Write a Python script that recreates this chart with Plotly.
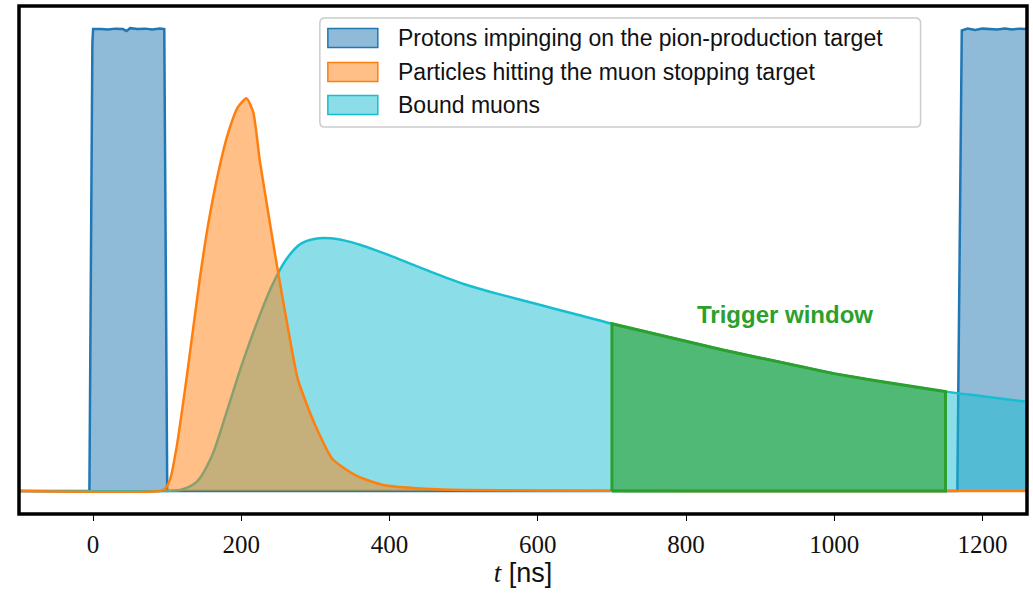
import plotly.graph_objects as go

# Beam time structure, in ns
proton_t = [-100, -5, -1, 0, 10, 20, 30, 40, 45, 50, 60, 70, 80, 90, 96, 98, 100,
            1166, 1170, 1172, 1180, 1190, 1200, 1210, 1220, 1230, 1240, 1250, 1260]
proton_y = [0.0, 0.0, 0.97, 1.0, 1.0, 0.999, 1.001, 1.0, 0.996, 1.002, 1.0, 1.001, 0.999, 1.001, 1.0, 0.5, 0.0,
            0.0, 0.6, 0.997, 1.001, 0.998, 1.001, 1.0, 0.999, 1.001, 0.999, 1.001, 1.0]

particle_t = [-100, 90, 97, 104, 113, 126, 144, 155, 168, 182, 195, 207, 216, 225, 236,
              248, 262, 276, 290, 302, 323, 355, 391, 436, 500, 600, 800, 1260]
particle_y = [0.0, 0.0, 0.005, 0.026, 0.098, 0.243, 0.46, 0.575, 0.683, 0.774, 0.83, 0.85,
              0.82, 0.714, 0.605, 0.488, 0.36, 0.243, 0.18, 0.134, 0.069, 0.033, 0.013,
              0.006, 0.002, 0.001, 0.0, 0.0]

muon_t = [-100, 100, 120, 140, 160, 180, 200, 220, 240, 260, 280, 300, 320, 340, 360, 380,
          400, 450, 500, 550, 600, 650, 700, 750, 800, 850, 900, 950, 1000, 1050, 1100,
          1150, 1200, 1260]
muon_y = [0.0, 0.0, 0.003, 0.02, 0.075, 0.17, 0.27, 0.36, 0.44, 0.5, 0.535, 0.546, 0.547,
          0.542, 0.533, 0.522, 0.51, 0.478, 0.448, 0.425, 0.404, 0.383, 0.362, 0.343,
          0.324, 0.305, 0.288, 0.271, 0.254, 0.240, 0.227, 0.215, 0.205, 0.193]

window_start, window_end = 700, 1150

labels = ["Protons impinging on the pion-production target",
          "Particles hitting the muon stopping target",
          "Bound muons"]
x_ticks = [0, 200, 400, 600, 800, 1000, 1200]

blue, orange, cyan, green = "#1f77b4", "#ff7f0e", "#17becf", "#2ca02c"

fig = go.Figure()

fig.add_trace(go.Scatter(x=proton_t, y=proton_y, mode="lines", fill="tozeroy",
                         line=dict(color=blue, width=2.5),
                         fillcolor="rgba(31,119,180,0.5)", showlegend=False))
fig.add_trace(go.Scatter(x=muon_t, y=muon_y, mode="lines", fill="tozeroy",
                         line=dict(color=cyan, width=2.5, shape="spline", smoothing=0.8),
                         fillcolor="rgba(23,190,207,0.5)", showlegend=False))
fig.add_trace(go.Scatter(x=particle_t, y=particle_y, mode="lines", fill="tozeroy",
                         line=dict(color=orange, width=2.5, shape="spline", smoothing=0.6),
                         fillcolor="rgba(255,127,14,0.5)", showlegend=False))

# Trigger window: area under the bound-muon curve between the window edges
win_t = [t for t in muon_t if window_start <= t <= window_end]
win_y = [y for t, y in zip(muon_t, muon_y) if window_start <= t <= window_end]
fig.add_trace(go.Scatter(x=[win_t[0]] + win_t + [win_t[-1], win_t[0]],
                         y=[0] + win_y + [0, 0],
                         mode="lines", fill="toself",
                         line=dict(color=green, width=3),
                         fillcolor="rgba(44,160,44,0.6)", showlegend=False))

fig.add_annotation(x=933, y=0.382, text="<b>Trigger window</b>", showarrow=False,
                   font=dict(family="Liberation Sans", size=24, color=green))

# Legend box with colour patches
lx0, lx1, ly0, ly1 = 320, 921, 18, 127
W, H = 1033, 593
ml, mr, mt, mb = 19, 5.5, 6, 79
pw, ph = W - ml - mr, H - mt - mb


def px(x):
    return (x - ml) / pw


def py(y):
    return (H - mb - y) / ph


r = 5
path = (f"M {px(lx0 + r)},{py(ly0)} L {px(lx1 - r)},{py(ly0)} "
        f"Q {px(lx1)},{py(ly0)} {px(lx1)},{py(ly0 + r)} "
        f"L {px(lx1)},{py(ly1 - r)} Q {px(lx1)},{py(ly1)} {px(lx1 - r)},{py(ly1)} "
        f"L {px(lx0 + r)},{py(ly1)} Q {px(lx0)},{py(ly1)} {px(lx0)},{py(ly1 - r)} "
        f"L {px(lx0)},{py(ly0 + r)} Q {px(lx0)},{py(ly0)} {px(lx0 + r)},{py(ly0)} Z")
fig.add_shape(type="path", path=path, xref="paper", yref="paper",
              line=dict(color="#cccccc", width=1.5), fillcolor="rgba(255,255,255,0.85)")

patch_fill = ["rgba(31,119,180,0.5)", "rgba(255,127,14,0.5)", "rgba(23,190,207,0.5)"]
patch_line = [blue, orange, cyan]
row_centers = [38, 72, 105]
for lab, fc, lc, cy in zip(labels, patch_fill, patch_line, row_centers):
    fig.add_shape(type="rect", xref="paper", yref="paper",
                  x0=px(328), x1=px(378), y0=py(cy - 9.5), y1=py(cy + 9.5),
                  line=dict(color=lc, width=1.5), fillcolor=fc)
    fig.add_annotation(xref="paper", yref="paper", x=px(396), y=py(cy),
                       xanchor="left", yanchor="middle", text=lab, showarrow=False,
                       font=dict(family="Liberation Sans", size=23, color="#111111"))

# Thick frame around the plotting area
fig.add_shape(type="rect", xref="paper", yref="paper", x0=0, x1=1, y0=0, y1=1,
              line=dict(color="black", width=3.5), layer="above")

fig.update_layout(
    width=W, height=H,
    margin=dict(l=ml, r=mr, t=mt, b=mb),
    plot_bgcolor="white", paper_bgcolor="white",
    showlegend=False,
    xaxis=dict(range=[-100, 1260], tickvals=x_ticks, ticktext=[str(v) for v in x_ticks],
               ticks="outside", ticklen=6, tickwidth=1.2, tickcolor="black",
               ticklabelstandoff=2,
               showgrid=False, zeroline=False, showline=False,
               tickfont=dict(family="Liberation Serif", size=25, color="#111111"),
               title=dict(text="<i style='font-family:Liberation Serif'>t</i> "
                               "<span style='font-family:Liberation Sans'>[ns]</span>",
                          standoff=4,
                          font=dict(family="Liberation Sans", size=27, color="#111111"))),
    yaxis=dict(range=[-0.05, 1.05], showticklabels=False, ticks="", showgrid=False,
               zeroline=False, showline=False),
)

fig.write_html("out.html")
